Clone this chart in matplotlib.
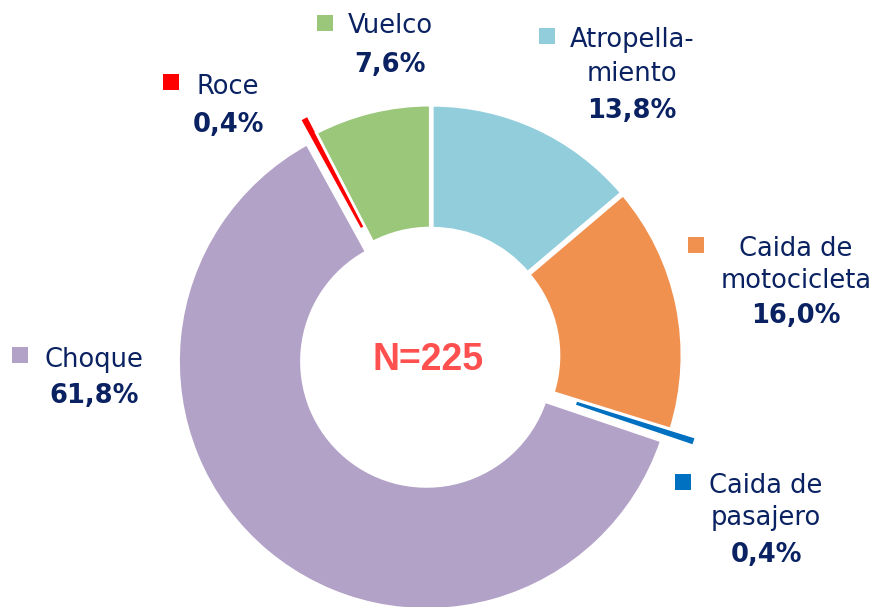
import matplotlib
matplotlib.use("Agg")
import matplotlib.pyplot as plt
from matplotlib.patches import Rectangle

# Data (clockwise from 12 o'clock)
categories = ["Atropella-\nmiento", "Caida de\nmotocicleta", "Caida de\npasajero", "Choque", "Roce", "Vuelco"]
values = [13.8, 16.0, 0.4, 61.8, 0.4, 7.6]
pct_labels = ["13,8%", "16,0%", "0,4%", "61,8%", "0,4%", "7,6%"]
colors = ["#92CDDC", "#F0914F", "#0070C0", "#B3A2C7", "#FF0000", "#9BC77B"]
total_label = "N=225"

W, H = 880, 607
fig = plt.figure(figsize=(W / 100, H / 100), dpi=100)
ax = fig.add_axes([0, 0, 1, 1])

def Y(py):
    return H - py

cx, cy = 431, 356
R = 248
explode = [3, 3, 28, 7, 21, 3]
wedges, _ = ax.pie(values, startangle=90, counterclock=False, radius=R,
                   center=(cx, Y(cy)), colors=colors, explode=explode,
                   wedgeprops=dict(width=123, edgecolor="white", linewidth=2))
for w, v in zip(wedges, values):
    if v < 1:
        w.set_linewidth(0)

ax.set_xlim(0, W)
ax.set_ylim(0, H)
ax.set_aspect("equal")
ax.axis("off")

navy = "#0A2262"
fs = 18.5
# label layouts: (marker left, marker top, center x, baselines)
layout = [
    (539, 28, 632, [47, 81, 118]),
    (688, 237, 796, [256, 288, 323]),
    (675, 474, 766, [493, 525, 562]),
    (12, 347, 94, [367, 403]),
    (163, 74, 228, [94, 132]),
    (317, 15, 390, [33, 72]),
]
for cat, pct, col, (mx, my, tx, bls) in zip(categories, pct_labels, colors, layout):
    ax.add_patch(Rectangle((mx, Y(my + 16)), 16, 16, color=col, lw=0))
    lines = cat.split("\n")
    for ln, b in zip(lines, bls):
        ax.text(tx, Y(b), ln, ha="center", va="baseline", fontsize=fs,
                color=navy, family="DejaVu Sans")
    ax.text(tx, Y(bls[-1]), pct, ha="center", va="baseline", fontsize=fs,
            color=navy, family="DejaVu Sans", fontweight="bold")

ax.text(428, Y(370), total_label, ha="center", va="baseline", fontsize=27,
        color="#FF5050", family="Liberation Sans", fontweight="bold")

fig.savefig("out.png", dpi=100)
